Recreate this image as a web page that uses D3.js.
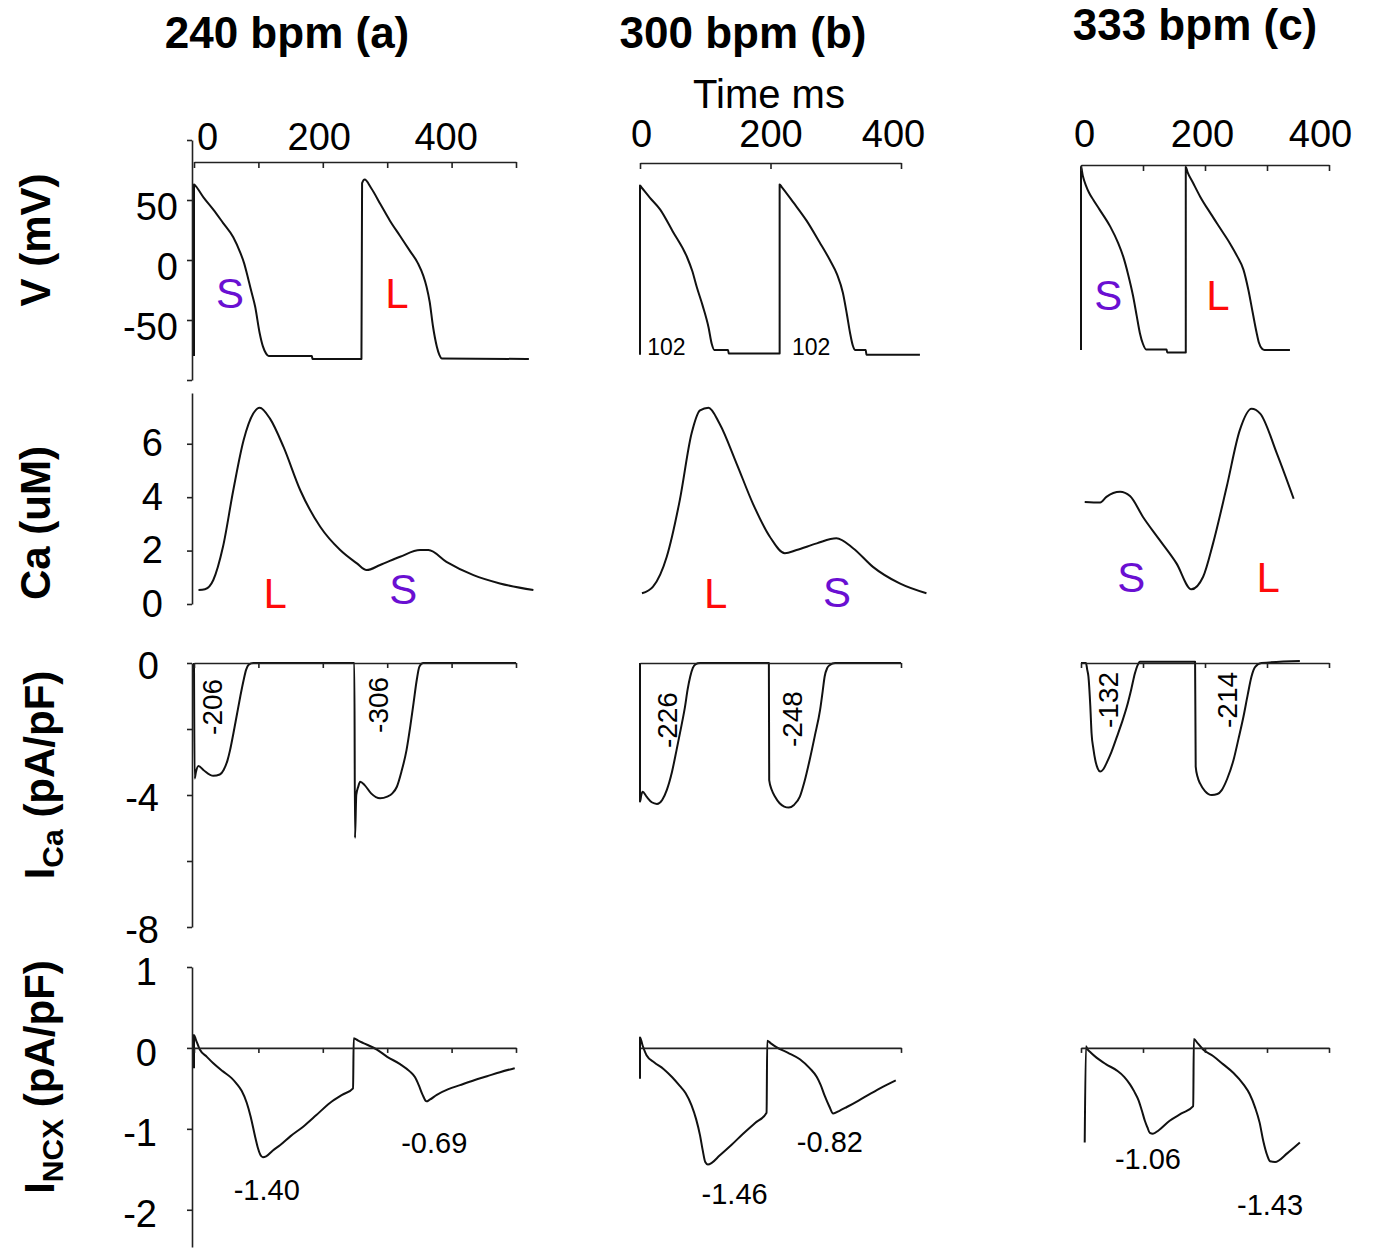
<!DOCTYPE html>
<html>
<head>
<meta charset="utf-8">
<script src="https://cdn.jsdelivr.net/npm/d3@7"></script>
<style>
body { margin: 0; background: #fff; }
text { font-family: "Liberation Sans", Arial, sans-serif; }
</style>
</head>
<body>
<script>
// column headers and row names
var colTitles = ["240 bpm (a)", "300 bpm (b)", "333 bpm (c)"];
var rowNames = [["V", "", " (mV)"], ["Ca", "", " (uM)"], ["I", "Ca", " (pA/pF)"], ["I", "NCX", " (pA/pF)"]];

// tick values
var timeTicksA = [0, 100, 200, 300, 400, 500];
var timeTicksB = [0, 200, 400];
var timeTicksC = [0, 100, 200, 300, 400];
var timeLabels = [0, 200, 400];
var vTicks = [-100, -50, 0, 50, 100], vLabels = [-50, 0, 50];
var caTicks = [0, 2, 4, 6];
var icaTicks = [0, -2, -4, -6, -8], icaLabels = [0, -4, -8];
var ncxTicks = [1, 0, -1, -2];

// traces, [time ms, value]
var vA = [[0,-80],[0,63],[2,62],[15,52],[30,42],[45,31],[61,19],[72,6],[78,-3],[82,-11],[88,-24],[95,-39],[102,-61],[107,-72],[112,-78],[116,-80],[183,-80],[184,-82.5],[260,-82.5],
  [261,64],[265,67],[275,60],[290,46],[304,33],[320,20],[336,7],[348,-3],[356,-13],[361,-22],[366,-35],[371,-55],[377,-72],[381,-79],[385,-82],[520,-82.5]];
var vB = [[0,-79],[0,62],[3,60],[15,52],[31,42],[50,24],[72,2.5],[80,-9],[87,-22.5],[96,-38],[105,-56],[110,-70],[114,-75],[135,-75],[136,-78],[214,-78],
  [214,63],[217,61],[235,48],[255,33],[275,15],[291,0],[302,-12],[311,-27.5],[317,-45],[322,-61],[326,-71],[330,-75],[346,-75],[347,-79],[429,-79]];
var vC = [[0,-75],[0,77.5],[3,70],[8,62],[13,56],[20,50],[30,42],[47,28],[60,14],[68,3],[76,-12],[84,-30],[90,-47],[95,-61],[100,-70],[105,-74.5],[138,-74.5],[139,-77],[169,-77],
  [169,77.5],[172,73],[180,65],[192,53],[210,38],[225,26],[240,14],[252,3],[262,-8],[270,-25],[277,-44],[283,-60],[287,-69],[292,-74],[296,-75],[337,-75]];

var caA = [[7,0.52],[17,0.55],[30,0.9],[45,2.14],[61,4.26],[77,6.13],[92,7.13],[102,7.35],[118,6.94],[139,5.88],[165,4.26],[196,2.89],[227,2.02],[253,1.52],[268,1.27],
  [289,1.46],[320,1.77],[351,2.02],[364,2.02],[392,1.58],[434,1.08],[475,0.77],[527,0.52]];
var caB = [[3,0.4],[20,0.65],[41,1.77],[61,3.89],[79,6.38],[92,7.25],[105,7.35],[122,6.75],[148,5.26],[173,3.76],[199,2.52],[222,1.9],[240,2.02],[271,2.27],
  [301,2.46],[327,2.08],[357,1.39],[398,0.77],[439,0.4]];
var caC = [[6,3.82],[31,3.8],[41,4.01],[63,4.2],[79,4.04],[100,3.26],[127,2.39],[154,1.52],[178,0.55],[197,1.02],[213,2.27],[235,4.39],[256,6.5],[275,7.31],
  [289,7.13],[316,5.63],[343,3.94]];

var icaA = [[0,0],[1,-3.5],[3,-3.3],[7,-3.12],[15,-3.25],[30,-3.42],[40,-3.38],[46,-3.24],[52,-2.95],[56,-2.64],[61,-2.15],[66,-1.63],[72,-1],[77,-0.52],[81,-0.2],[85,-0.05],[92,0],[249,0],
  [250,-5.3],[252,-4],[255,-3.75],[258,-3.6],[265,-3.7],[275,-3.95],[289,-4.1],[300,-4.05],[308,-3.95],[315,-3.75],[322,-3.3],[330,-2.64],[336,-1.9],[341,-1.2],[346,-0.5],[350,-0.11],[356,0],[500,0]];
var icaB = [[0,0],[0,-4.2],[2,-4],[4,-3.9],[10,-4.05],[18,-4.22],[26,-4.27],[34,-4.15],[41,-3.85],[49,-3.3],[56,-2.64],[63,-1.95],[69,-1.32],[73,-0.8],[77,-0.41],[81,-0.15],[85,-0.04],[92,0],[197.5,0],
  [198,-3.55],[202,-3.85],[207,-4.05],[214,-4.25],[221,-4.35],[228,-4.38],[236,-4.3],[245,-4.05],[252,-3.6],[260,-2.94],[268,-2.2],[276,-1.42],[280,-0.85],[283,-0.41],[287,-0.15],[291,-0.06],[299,0],[400,0]];
var icaC = [[0,0],[8,0],[10,-0.2],[12,-0.41],[15,-1.3],[17,-2.12],[20,-2.6],[23,-2.94],[27,-3.2],[31,-3.29],[36,-3.22],[41,-3.04],[49,-2.7],[58,-2.23],[66,-1.8],[74,-1.32],[81,-0.8],[87,-0.31],[91,-0.08],[95,0.04],[184,0.04],
  [185,-3.14],[188,-3.45],[192,-3.65],[200,-3.88],[211,-4],[220,-3.97],[227,-3.85],[236,-3.5],[246,-2.94],[254,-2.3],[262,-1.63],[269,-0.95],[275,-0.41],[281,-0.12],[291,0],[353,0.06]];

var ncxA = [[0,-0.25],[0,0.16],[3,0.1],[9,-0.02],[20,-0.11],[30,-0.19],[45,-0.29],[58,-0.37],[66,-0.44],[74,-0.53],[82,-0.68],[88,-0.85],[95,-1.1],[99,-1.23],[103,-1.32],[107,-1.35],[112,-1.34],[122,-1.27],
  [134,-1.2],[150,-1.09],[170,-0.97],[190,-0.83],[211,-0.68],[230,-0.58],[247,-0.5],[248,0.12],[255,0.09],[263,0.06],[284,-0.02],[300,-0.11],[320,-0.2],[335,-0.29],[343,-0.36],[349,-0.46],[355,-0.58],
  [361,-0.66],[366,-0.64],[377,-0.58],[395,-0.51],[413,-0.46],[435,-0.4],[455,-0.35],[475,-0.3],[498,-0.25]];
var ncxB = [[0,-0.38],[0,0.13],[4,0.03],[10,-0.09],[22,-0.18],[36,-0.26],[49,-0.36],[61,-0.47],[70,-0.56],[79,-0.71],[86,-0.88],[92,-1.08],[96,-1.26],[100,-1.41],[104,-1.44],[110,-1.42],[122,-1.33],
  [140,-1.2],[158,-1.06],[176,-0.93],[194,-0.8],[195,0.09],[200,0.06],[209,0.01],[227,-0.06],[245,-0.14],[260,-0.25],[271,-0.36],[277,-0.46],[283,-0.59],[290,-0.72],[296,-0.81],[305,-0.78],[317,-0.73],
  [335,-0.65],[352,-0.57],[372,-0.48],[392,-0.4]];
var ncxC = [[6,-1.17],[8,0.02],[10,-0.01],[16,-0.06],[25,-0.12],[40,-0.2],[58,-0.28],[70,-0.36],[79,-0.45],[86,-0.54],[93,-0.65],[98,-0.77],[103,-0.9],[107,-0.98],[111,-1.05],[116,-1.06],[125,-1.02],
  [143,-0.9],[162,-0.81],[181,-0.72],[182,0.11],[188,0.06],[197,-0.02],[213,-0.1],[229,-0.2],[246,-0.31],[262,-0.45],[272,-0.57],[281,-0.74],[288,-0.92],[294,-1.15],[300,-1.32],[305,-1.4],[313,-1.41],
  [333,-1.3],[353,-1.17]];

// S / L markers, [time, value, letter]
var slV_A = [[56,-40,"S"],[315,-40,"L"]];
var slV_C = [[44,-42,"S"],[221,-42,"L"]];
var slCa_A = [[126,-0.15,"L"],[325,0,"S"]];
var slCa_B = [[116,-0.15,"L"],[302,-0.1,"S"]];
var slCa_C = [[81,0.45,"S"],[302,0.45,"L"]];

// number annotations, [time, value, text]
var apdB = [[11,-79,"102"],[233,-79,"102"]];
var chargeA = [[43.5,-1.33,"-206"],[301,-1.27,"-306"]];
var chargeB = [[57,-1.73,"-226"],[248,-1.7,"-248"]];
var chargeC = [[60,-1.12,"-132"],[252,-1.12,"-214"]];
var peakA = [[113,-1.88,"-1.40"],[373,-1.3,"-0.69"]];
var peakB = [[145,-1.93,"-1.46"],[291,-1.28,"-0.82"]];
var peakC = [[108,-1.49,"-1.06"],[305,-2.07,"-1.43"]];

var W = 1373, H = 1251;
var svg = d3.select("body").append("svg")
    .attr("width", W)
    .attr("height", H);

// one time scale per column
var xA = d3.scaleLinear().domain([0, 500]).range([194, 516]);
var xB = d3.scaleLinear().domain([0, 400]).range([640, 901]);
var xC = d3.scaleLinear().domain([0, 400]).range([1081, 1329]);

// one value scale per row
var yV = d3.scaleLinear().domain([-100, 100]).range([380, 140]);
var yCa = d3.scaleLinear().domain([0, 7.9]).range([604, 393]);
var yIca = d3.scaleLinear().domain([-8, 0]).range([927, 663]);
var yNcx = d3.scaleLinear().domain([-2.46, 1]).range([1247, 967]);

var PURPLE = "#6a0fd2", RED = "#ff0a0a";
var fmt = function(list) {
    return function(d) { return list.indexOf(d) != -1 ? String(d) : ""; };
};

var styleAxis = function(g, size) {
    g.attr("font-family", "Liberation Sans, Arial, sans-serif").attr("font-size", size);
    g.selectAll("path, line").attr("stroke", "#222").attr("stroke-width", 1.6);
    g.selectAll("text").attr("fill", "#000");
};

// traces (monotone so flat stretches and jumps don't overshoot)
var trace = function(data, x, y) {
    var line = d3.line()
        .x(function(d) { return x(d[0]); })
        .y(function(d) { return y(d[1]); })
        .curve(d3.curveMonotoneX);
    svg.append("path")
        .attr("d", line(data))
        .attr("fill", "none")
        .attr("stroke", "#111")
        .attr("stroke-width", 2)
        .attr("stroke-linejoin", "round");
};

trace(vA, xA, yV); trace(vB, xB, yV); trace(vC, xC, yV);
trace(caA, xA, yCa); trace(caB, xB, yCa); trace(caC, xC, yCa);
trace(icaA, xA, yIca); trace(icaB, xB, yIca); trace(icaC, xC, yIca);
trace(ncxA, xA, yNcx); trace(ncxB, xB, yNcx); trace(ncxC, xC, yNcx);

// top time axes (row 1); labels in the original sit a bit off their ticks
var topAxis = function(x, ypos, ticks, pad, shift) {
    var g = svg.append("g")
        .attr("transform", "translate(0," + ypos + ")")
        .call(d3.axisTop(x).tickValues(ticks).tickSizeInner(-6).tickSizeOuter(0)
            .tickPadding(pad).tickFormat(fmt(timeLabels)));
    styleAxis(g, 38);
    g.selectAll("text").attr("dx", function(d) { return shift[d] || 0; });
};
topAxis(xA, 162, timeTicksA, 12, {0: 13, 200: -4, 400: -6});
topAxis(xB, 163, timeTicksB, 16, {0: 1, 400: -8});
topAxis(xC, 165, timeTicksC, 18, {0: 3, 200: -3, 400: -9});

// zero-line time axes (rows 3 and 4)
var zeroAxis = function(x, ypos, ticks) {
    var g = svg.append("g")
        .attr("transform", "translate(0," + ypos + ")")
        .call(d3.axisBottom(x).tickValues(ticks).tickSize(5).tickSizeOuter(0).tickFormat(""));
    styleAxis(g, 38);
};
zeroAxis(xA, yIca(0), timeTicksA);
zeroAxis(xB, yIca(0), [400]);
zeroAxis(xC, yIca(0), timeTicksC);
zeroAxis(xA, yNcx(0), timeTicksA);
zeroAxis(xB, yNcx(0), [400]);
zeroAxis(xC, yNcx(0), timeTicksC);

// value axes, column a only
var leftAxis = function(y, ticks, labels, pad, dy) {
    var g = svg.append("g")
        .attr("transform", "translate(192,0)")
        .call(d3.axisLeft(y).tickValues(ticks).tickSize(5).tickSizeOuter(0)
            .tickPadding(pad).tickFormat(fmt(labels)));
    styleAxis(g, 38);
    g.selectAll("text").attr("dy", dy);
};
leftAxis(yV, vTicks, vLabels, 9, "0.5em");
leftAxis(yCa, caTicks, caTicks, 24, "0.32em");
leftAxis(yIca, icaTicks, icaLabels, 28, "0.4em");
leftAxis(yNcx, ncxTicks, ncxTicks, 30, "0.45em");

// S / L letters
var letters = function(list, x, y) {
    svg.selectAll(null).data(list).enter().append("text")
        .attr("x", function(d) { return x(d[0]); })
        .attr("y", function(d) { return y(d[1]); })
        .attr("text-anchor", "middle")
        .attr("font-size", 42)
        .attr("fill", function(d) { return d[2] == "S" ? PURPLE : RED; })
        .text(function(d) { return d[2]; });
};
letters(slV_A, xA, yV); letters(slV_C, xC, yV);
letters(slCa_A, xA, yCa); letters(slCa_B, xB, yCa); letters(slCa_C, xC, yCa);

// numbers
var notes = function(list, x, y, size, anchor) {
    svg.selectAll(null).data(list).enter().append("text")
        .attr("x", function(d) { return x(d[0]); })
        .attr("y", function(d) { return y(d[1]); })
        .attr("text-anchor", anchor)
        .attr("font-size", size)
        .attr("fill", "#000")
        .text(function(d) { return d[2]; });
};
notes(apdB, xB, yV, 23, "start");
notes(peakA, xA, yNcx, 29, "middle");
notes(peakB, xB, yNcx, 29, "middle");
notes(peakC, xC, yNcx, 29, "middle");

// rotated charge numbers in the ICa row
var rotNotes = function(list, x, y) {
    svg.selectAll(null).data(list).enter().append("text")
        .attr("transform", function(d) { return "translate(" + x(d[0]) + "," + y(d[1]) + ") rotate(-90)"; })
        .attr("text-anchor", "middle")
        .attr("font-size", 28)
        .attr("fill", "#000")
        .text(function(d) { return d[2]; });
};
rotNotes(chargeA, xA, yIca);
rotNotes(chargeB, xB, yIca);
rotNotes(chargeC, xC, yIca);

// column titles
var titleX = [287, 743, 1195], titleY = [48, 48, 40];
svg.selectAll(null).data(colTitles).enter().append("text")
    .attr("x", function(d, i) { return titleX[i]; })
    .attr("y", function(d, i) { return titleY[i]; })
    .attr("text-anchor", "middle")
    .attr("font-size", 44)
    .attr("font-weight", "bold")
    .text(function(d) { return d; });

svg.append("text")
    .attr("x", 769).attr("y", 108)
    .attr("text-anchor", "middle")
    .attr("font-size", 40)
    .text("Time ms");

// row labels, rotated, with subscripts
var rowY = [240, 523, 775, 1077], rowX = [50, 50, 54, 54];
rowNames.forEach(function(r, i) {
    var t = svg.append("text")
        .attr("transform", "translate(" + rowX[i] + "," + rowY[i] + ") rotate(-90)")
        .attr("text-anchor", "middle")
        .attr("font-size", 42)
        .attr("font-weight", "bold");
    t.append("tspan").text(r[0]);
    if (r[1]) {
        t.append("tspan").attr("font-size", 30).attr("dy", 9).text(r[1]);
        t.append("tspan").attr("dy", -9).text(r[2]);
    } else {
        t.append("tspan").text(r[2]);
    }
});
</script>
</body>
</html>
